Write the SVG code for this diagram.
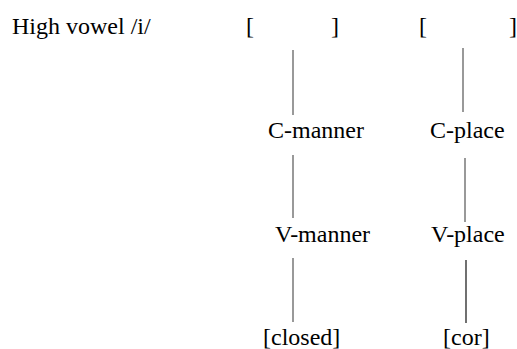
<svg xmlns="http://www.w3.org/2000/svg" width="517" height="349" viewBox="0 0 517 349">
<rect width="517" height="349" fill="#fff"/>
<g id="label"><text x="12" y="34" font-family="Liberation Serif" font-size="24">High vowel /i/</text></g>
<g id="bracket1"><text x="246" y="34" font-family="Liberation Serif" font-size="24">[</text><text x="331" y="34" font-family="Liberation Serif" font-size="24">]</text></g>
<g id="bracket2"><text x="419" y="34" font-family="Liberation Serif" font-size="24">[</text><text x="509" y="34" font-family="Liberation Serif" font-size="24">]</text></g>
<g id="cmanner"><text x="268" y="138" font-family="Liberation Serif" font-size="24">C-manner</text></g>
<g id="cplace"><text x="430" y="138" font-family="Liberation Serif" font-size="24">C-place</text></g>
<g id="vmanner"><text x="275" y="242" font-family="Liberation Serif" font-size="24">V-manner</text></g>
<g id="vplace"><text x="431" y="242" font-family="Liberation Serif" font-size="24">V-place</text></g>
<g id="closed"><text x="263" y="345" font-family="Liberation Serif" font-size="24">[closed]</text></g>
<g id="cor"><text x="443" y="345" font-family="Liberation Serif" font-size="24">[cor]</text></g>
<g id="connectors" stroke="#555" stroke-width="1.2">
<line x1="293" y1="50" x2="293" y2="115"/>
<line x1="463" y1="48" x2="463" y2="112"/>
<line x1="293" y1="155" x2="293" y2="218"/>
<line x1="465" y1="158" x2="465" y2="222"/>
<line x1="293" y1="258" x2="293" y2="322"/>
<line x1="466" y1="260" x2="466" y2="323" stroke="#111"/>
</g>
</svg>
